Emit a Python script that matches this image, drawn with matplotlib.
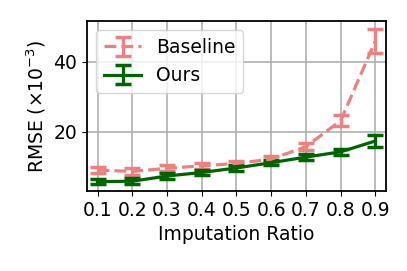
import matplotlib
matplotlib.use("Agg")
import matplotlib.pyplot as plt

ratios = [0.1, 0.2, 0.3, 0.4, 0.5, 0.6, 0.7, 0.8, 0.9]
tick_labels = ["0.1", "0.2", "0.3", "0.4", "0.5", "0.6", "0.7", "0.8", "0.9"]

# RMSE values (x 1e-3)
baseline_mean = [9.1, 8.7, 9.6, 10.3, 11.0, 12.2, 15.8, 23.2, 46.0]
baseline_err = [0.9, 0.9, 0.9, 0.8, 0.8, 0.8, 1.0, 1.6, 3.4]
ours_mean = [5.8, 5.9, 7.4, 8.4, 9.7, 11.2, 12.8, 14.3, 17.4]
ours_err = [0.8, 0.8, 0.9, 0.8, 0.8, 0.8, 0.8, 0.9, 1.7]

plt.rcParams["font.size"] = 13.5

fig = plt.figure(figsize=(4.07, 2.71), dpi=100)
ax = fig.add_axes([0.214, 0.295, 0.734, 0.628])

ax.errorbar(ratios, baseline_mean, yerr=baseline_err, color="lightcoral",
            linestyle="--", linewidth=2.3, capsize=5.5, capthick=2.5, elinewidth=2.3,
            label="Baseline")
ax.errorbar(ratios, ours_mean, yerr=ours_err, color="darkgreen",
            linestyle="-", linewidth=2.3, capsize=5.5, capthick=2.5, elinewidth=2.3,
            label="Ours")

ax.set_xticks(ratios)
ax.set_xticklabels(tick_labels)
ax.set_xlim(0.07, 0.93)
ax.set_ylim(3.1, 51.7)
ax.set_yticks([20, 40])
ax.grid(True, color="#b0b0b0", linewidth=1.2)
ax.set_axisbelow(True)
for s in ax.spines.values():
    s.set_linewidth(1.3)

ax.set_xlabel("Imputation Ratio")
ax.set_ylabel(r"RMSE ($\times 10^{-3}$)")
ax.legend(loc="upper left")

fig.savefig("out.png", dpi=100)
